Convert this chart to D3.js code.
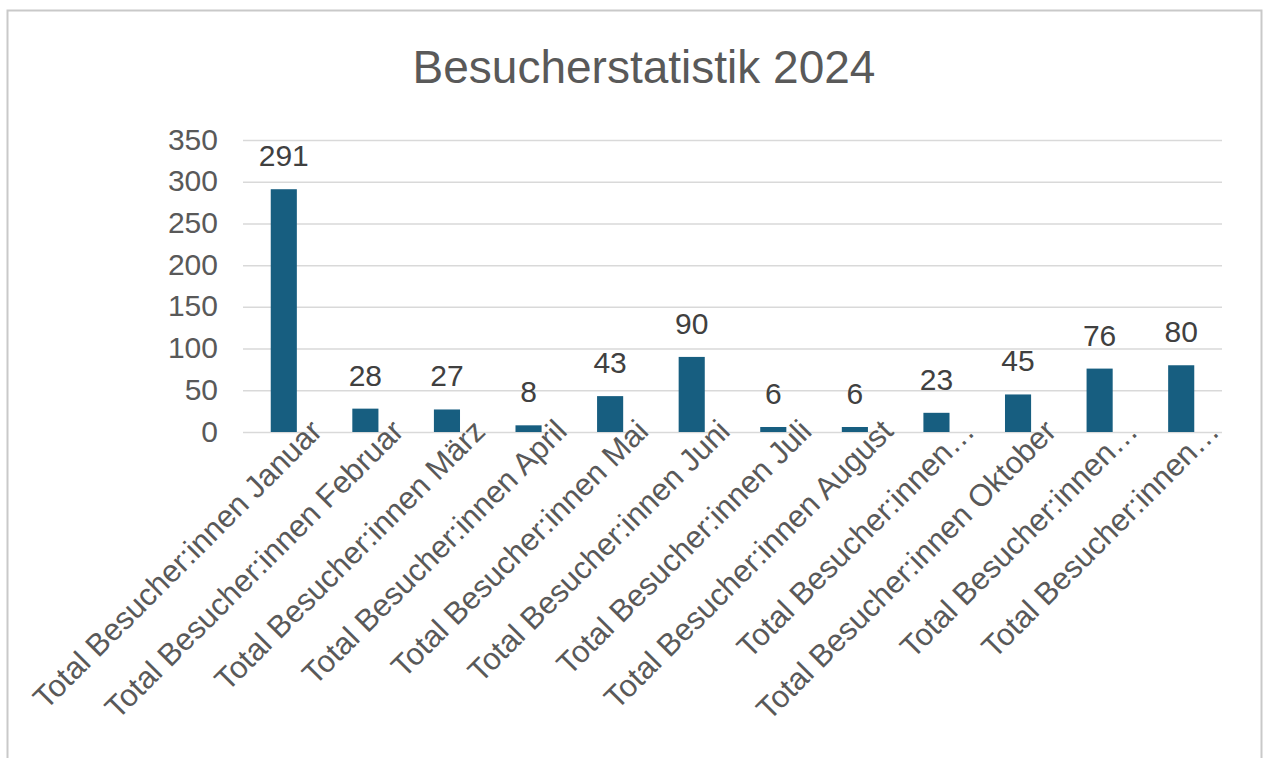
<!DOCTYPE html>
<html>
<head>
<meta charset="utf-8">
<script src="https://cdn.jsdelivr.net/npm/d3@7"></script>
<style>
  html, body { margin: 0; padding: 0; background: #ffffff; }
  svg { display: block; }
  text { font-family: "Liberation Sans", Arial, Helvetica, sans-serif; }
</style>
</head>
<body>
<svg id="chart" width="1264" height="758"></svg>
<script>
// ---- data ----
const title = "Besucherstatistik 2024";
const categories = [
  "Total Besucher:innen Januar",
  "Total Besucher:innen Februar",
  "Total Besucher:innen März",
  "Total Besucher:innen April",
  "Total Besucher:innen Mai",
  "Total Besucher:innen Juni",
  "Total Besucher:innen Juli",
  "Total Besucher:innen August",
  "Total Besucher:innen September",
  "Total Besucher:innen Oktober",
  "Total Besucher:innen November",
  "Total Besucher:innen Dezember"
];
const tickLabels = [
  "Total Besucher:innen Januar",
  "Total Besucher:innen Februar",
  "Total Besucher:innen März",
  "Total Besucher:innen April",
  "Total Besucher:innen Mai",
  "Total Besucher:innen Juni",
  "Total Besucher:innen Juli",
  "Total Besucher:innen August",
  "Total Besucher:innen…",
  "Total Besucher:innen Oktober",
  "Total Besucher:innen…",
  "Total Besucher:innen…"
];
const values = [291, 28, 27, 8, 43, 90, 6, 6, 23, 45, 76, 80];
const yTicks = [0, 50, 100, 150, 200, 250, 300, 350];

// ---- layout ----
const svg = d3.select("#chart");
const plot = { left: 243, right: 1222, top: 140, bottom: 432 };

// outer frame
svg.append("rect")
  .attr("x", 7.5).attr("y", 10.5)
  .attr("width", 1254).attr("height", 800)
  .attr("fill", "none").attr("stroke", "#c9c9c9").attr("stroke-width", 2);

// title
svg.append("text")
  .attr("x", 644).attr("y", 83)
  .attr("text-anchor", "middle")
  .attr("font-size", 46)
  .attr("fill", "#595959")
  .text(title);

const x = d3.scaleBand()
  .domain(categories)
  .range([plot.left, plot.right])
  .paddingInner(0.68).paddingOuter(0.34);

const y = d3.scaleLinear()
  .domain([0, 350])
  .range([plot.bottom, plot.top]);

// gridlines + y labels
const yAxis = d3.axisLeft(y).tickValues(yTicks).tickSize(-(plot.right - plot.left)).tickPadding(25);
const gy = svg.append("g").attr("transform", `translate(${plot.left},0)`).call(yAxis);
gy.select(".domain").remove();
gy.selectAll(".tick line").attr("stroke", "#d9d9d9").attr("stroke-width", 1.5);
gy.selectAll(".tick text")
  .attr("font-size", 30)
  .attr("fill", "#595959")
  .attr("dy", "0.3em")
  .attr("font-family", "\"Liberation Sans\", Arial, sans-serif");

// bars
svg.append("g").selectAll("rect")
  .data(values)
  .join("rect")
  .attr("x", (d, i) => x(categories[i]))
  .attr("width", x.bandwidth())
  .attr("y", d => y(d))
  .attr("height", d => y(0) - y(d))
  .attr("fill", "#175e80");

// value labels
svg.append("g").selectAll("text")
  .data(values)
  .join("text")
  .attr("x", (d, i) => x(categories[i]) + x.bandwidth() / 2)
  .attr("y", d => y(d) - 23)
  .attr("text-anchor", "middle")
  .attr("font-size", 30)
  .attr("fill", "#404040")
  .text(d => d);

// x axis labels
const xAxis = d3.axisBottom(x).tickSize(0).tickFormat((d, i) => tickLabels[i]);
const gx = svg.append("g").attr("transform", `translate(0,${plot.bottom})`).call(xAxis);
gx.select(".domain").remove();
gx.selectAll(".tick text")
  .attr("font-size", 31)
  .attr("fill", "#595959")
  .attr("font-family", "\"Liberation Sans\", Arial, sans-serif")
  .attr("text-anchor", "end")
  .attr("dy", null)
  .attr("y", null)
  .attr("transform", "translate(40,1) rotate(-45)");
</script>
</body>
</html>
